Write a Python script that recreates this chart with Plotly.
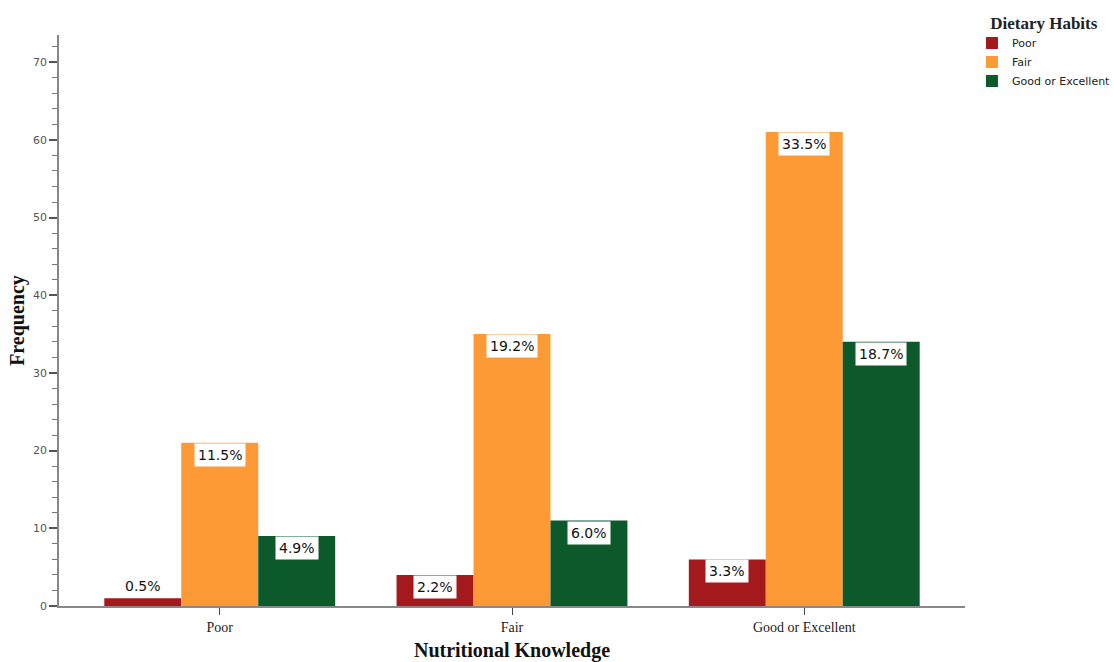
import plotly.graph_objects as go

categories = ["Poor", "Fair", "Good or Excellent"]
series_names = ["Poor", "Fair", "Good or Excellent"]
poor_vals = [1, 4, 6]
fair_vals = [21, 35, 61]
good_vals = [9, 11, 34]
poor_pct = ["0.5%", "2.2%", "3.3%"]
fair_pct = ["11.5%", "19.2%", "33.5%"]
good_pct = ["4.9%", "6.0%", "18.7%"]

colors = ["#A3191C", "#FD9A35", "#0C5A2C"]
series_vals = [poor_vals, fair_vals, good_vals]
series_pct = [poor_pct, fair_pct, good_pct]

group_width = 0.79
bw = group_width / 3

fig = go.Figure()
annotations = []
for j, (name, vals, pcts, col) in enumerate(zip(series_names, series_vals, series_pct, colors)):
    xs = [i + (j - 1) * bw for i in range(len(categories))]
    fig.add_trace(go.Bar(
        x=xs, y=vals, width=bw, name=name,
        marker=dict(color=col, line=dict(width=0)),
    ))
    for x, v, p in zip(xs, vals, pcts):
        inside = v >= 3
        annotations.append(dict(
            x=x, y=v, xref="x", yref="y", text=p, showarrow=False,
            yanchor="top" if inside else "bottom",
            bgcolor="white", borderpad=3,
            font=dict(family="DejaVu Sans", size=14, color="#111111"),
        ))

serif = "Liberation Serif"
fig.update_layout(
    width=1114, height=662,
    margin=dict(l=59, r=149, t=35, b=56, autoexpand=False),
    plot_bgcolor="white", paper_bgcolor="white",
    barmode="overlay",
    showlegend=True,
    legend=dict(
        x=1.0077, y=1.05, xanchor="left", yanchor="top",
        title=dict(text="<b>Dietary Habits</b>", side="top center",
                   font=dict(family=serif, size=17, color="#222")),
        font=dict(family="DejaVu Sans", size=11, color="#222"),
        itemwidth=30, tracegroupgap=0,
    ),
    annotations=annotations,
    xaxis=dict(
        range=[-0.55, 2.55],
        tickmode="array", tickvals=list(range(len(categories))), ticktext=categories,
        showline=True, linecolor="#888", linewidth=1.5,
        ticks="outside", ticklen=7, tickcolor="#444", tickwidth=1,
        showgrid=False, zeroline=False,
        tickfont=dict(family=serif, size=14, color="#222"),
        title=dict(text="<b>Nutritional Knowledge</b>", font=dict(family=serif, size=20, color="#111"), standoff=9),
    ),
    yaxis=dict(
        range=[0, 73.5],
        tickvals=[0, 10, 20, 30, 40, 50, 60, 70],
        showline=True, linecolor="#888", linewidth=1.5,
        ticks="outside", ticklen=8, tickcolor="#555", tickwidth=1.5,
        minor=dict(dtick=2, ticks="outside", ticklen=5, tickcolor="#777", tickwidth=1.2, showgrid=False),
        showgrid=False, zeroline=False,
        tickfont=dict(family="DejaVu Sans", size=11, color="#555"),
        title=dict(text="<b>Frequency</b>", font=dict(family=serif, size=20, color="#111"), standoff=3),
    ),
)

fig.write_html("out.html", config={"displayModeBar": False},
               post_script="document.body.style.margin='0';document.body.style.padding='0';")
